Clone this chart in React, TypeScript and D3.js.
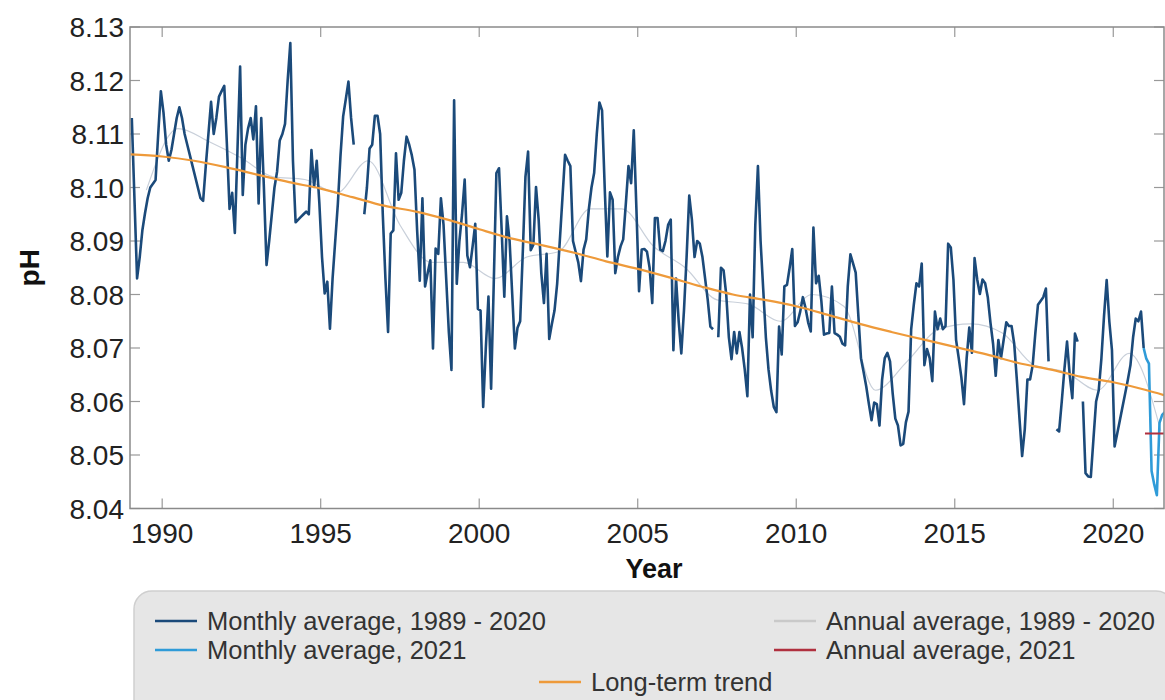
import React from "react";
import * as d3 from "d3";

// Monthly pH, Jan 1989 .. Dec 2020 (null = missing month)
const monthly1989to2020: (number | null)[] = [
  8.113, 8.098, 8.083, 8.087, 8.092, 8.0952, 8.098, 8.1, 8.1007, 8.1014, 8.11, 8.118,
  8.114, 8.108, 8.105, 8.107, 8.11, 8.113, 8.115, 8.113, 8.11, 8.108, 8.106, 8.104,
  8.102, 8.1, 8.098, 8.0975, 8.104, 8.11, 8.116, 8.11, 8.113, 8.117, 8.118, 8.119,
  8.108, 8.096, 8.099, 8.0915, 8.107, 8.1226, 8.0986, 8.108, 8.111, 8.113, 8.109, 8.1152,
  8.097, 8.113, 8.1, 8.0855, 8.09, 8.095, 8.1, 8.103, 8.1088, 8.11, 8.1119, 8.12,
  8.127, 8.105, 8.0935, 8.094, 8.0945, 8.095, 8.0955, 8.095, 8.107, 8.1001, 8.105, 8.097,
  8.087, 8.0802, 8.0824, 8.0736, 8.083, 8.09, 8.097, 8.106, 8.1133, 8.1165, 8.1198, 8.113,
  8.108, null, null, null, 8.095, 8.1, 8.1073, 8.108, 8.1134, 8.1134, 8.11, 8.095,
  8.083, 8.073, 8.0914, 8.092, 8.1064, 8.0977, 8.099, 8.105, 8.1095, 8.108, 8.106, 8.1033,
  8.092, 8.0826, 8.098, 8.0815, 8.084, 8.0864, 8.0699, 8.0886, 8.0876, 8.098, 8.093, 8.083,
  8.073, 8.0659, 8.1163, 8.082, 8.09, 8.095, 8.1015, 8.0873, 8.0851, 8.089, 8.0932, 8.0773,
  8.077, 8.059, 8.07, 8.0796, 8.0624, 8.082, 8.1027, 8.1036, 8.092, 8.0796, 8.0946, 8.09,
  8.08, 8.0699, 8.0738, 8.075, 8.088, 8.102, 8.1067, 8.0883, 8.0893, 8.1001, 8.094, 8.084,
  8.0784, 8.0876, 8.0717, 8.0745, 8.077, 8.082, 8.09, 8.098, 8.1061, 8.105, 8.104, 8.09,
  8.088, 8.086, 8.0825, 8.0884, 8.0903, 8.096, 8.1, 8.1027, 8.11, 8.1159, 8.1144, 8.1,
  8.0871, 8.0991, 8.0977, 8.084, 8.087, 8.089, 8.0903, 8.097, 8.104, 8.1008, 8.1107, 8.096,
  8.0806, 8.0884, 8.0885, 8.088, 8.085, 8.0784, 8.0943, 8.0943, 8.0884, 8.0881, 8.09, 8.093,
  8.094, 8.0696, 8.083, 8.075, 8.069, 8.077, 8.087, 8.0985, 8.094, 8.087, 8.09, 8.0895,
  8.087, 8.083, 8.079, 8.074, 8.0735, null, 8.072, 8.085, 8.0845, 8.08, 8.072, 8.0679,
  8.073, 8.069, 8.073, 8.07, 8.066, 8.061, 8.08, 8.072, 8.093, 8.104, 8.09, 8.081,
  8.072, 8.066, 8.062, 8.059, 8.058, 8.074, 8.0688, 8.0815, 8.0818, 8.085, 8.0885, 8.0741,
  8.0748, 8.0768, 8.0795, 8.0775, 8.0748, 8.0731, 8.0925, 8.0821, 8.0835, 8.0788, 8.0725, 8.0727,
  8.0728, 8.0815, 8.0728, 8.0725, 8.0721, 8.0708, 8.0705, 8.0815, 8.0875, 8.0858, 8.0841, 8.0761,
  8.0681, 8.0655, 8.0628, 8.0595, 8.0565, 8.0598, 8.0595, 8.0555, 8.0641, 8.0681, 8.0691, 8.0675,
  8.0615, 8.0568, 8.0555, 8.0518, 8.0521, 8.0561, 8.0581, 8.0735, 8.0781, 8.0821, 8.0815, 8.0858,
  8.0668, 8.0698, 8.0681, 8.0638, 8.0768, 8.0735, 8.0755, 8.0735, 8.0741, 8.0895, 8.0888, 8.0828,
  8.0715, 8.0681, 8.0645, 8.0595, 8.0681, 8.0738, 8.0691, 8.0868, 8.0828, 8.0801, 8.0828, 8.0821,
  8.0795, 8.0748, 8.0708, 8.0648, 8.0715, 8.0681, 8.0715, 8.0748, 8.0741, 8.0741, 8.0708, 8.0641,
  8.0568, 8.0498, 8.0548, 8.0641, 8.0641, 8.0668, 8.0728, 8.0781, 8.0788, 8.0795, 8.0811, 8.0675,
  null, null, 8.0548, 8.0544, 8.06, 8.066, 8.0712, 8.065, 8.0606, 8.0727, 8.0712, null,
  8.06, 8.0466, 8.046, 8.0459, 8.053, 8.06, 8.0621, 8.068, 8.076, 8.0827, 8.075, 8.0696,
  8.0516, 8.054, 8.0565, 8.059, 8.0615, 8.064, 8.0668, 8.072, 8.0755, 8.075, 8.0768, 8.07,
];

// Monthly pH 2021 (Jan .. Aug)
const monthly2021: number[] = [8.068, 8.0671, 8.047, 8.0445, 8.0425, 8.056, 8.0575, 8.058];

// Annual averages (plotted mid-year)
const annualYears: number[] = [
  1989, 1990, 1991, 1992, 1993, 1994, 1995, 1996, 1997, 1998, 1999, 2000, 2001, 2002, 2003, 2004,
  2005, 2006, 2007, 2008, 2009, 2010, 2011, 2012, 2013, 2014, 2015, 2016, 2017, 2018, 2019, 2020, 2021,
];
const annualValues: number[] = [
  8.0995, 8.111, 8.1085, 8.1055, 8.102, 8.1015, 8.099, 8.105, 8.093, 8.086, 8.086, 8.083, 8.087,
  8.088, 8.096, 8.096, 8.089, 8.085, 8.079, 8.0782, 8.075, 8.08, 8.0778, 8.0621, 8.0675, 8.0735,
  8.0745, 8.0728, 8.0668, 8.0655, 8.0621, 8.069, 8.0545,
];

// Annual average 2021
const annual2021 = 8.054;

// Long-term trend
const trendYears: number[] = [
  1989, 1990, 1991, 1992, 1993, 1994, 1995, 1996, 1997, 1998, 1999, 2000, 2001, 2002, 2003, 2004,
  2005, 2006, 2007, 2008, 2009, 2010, 2011, 2012, 2013, 2014, 2015, 2016, 2017, 2018, 2019, 2020,
  2021, 2021.6,
];
const trendValues: number[] = [
  8.1062, 8.1058, 8.105, 8.1038, 8.1024, 8.101, 8.0998, 8.0982, 8.0966, 8.0955, 8.094, 8.0922,
  8.0905, 8.0892, 8.0878, 8.0862, 8.0848, 8.0832, 8.0815, 8.08, 8.079, 8.0778, 8.0762, 8.0745,
  8.073, 8.0716, 8.0702, 8.0688, 8.0672, 8.066, 8.0646, 8.0636, 8.0622, 8.0612,
];

const xTicks: number[] = [1990, 1995, 2000, 2005, 2010, 2015, 2020];
const yTicks: number[] = [8.04, 8.05, 8.06, 8.07, 8.08, 8.09, 8.1, 8.11, 8.12, 8.13];

const legendItems = [
  { label: "Monthly average, 1989 - 2020", color: "#1b4a7a" },
  { label: "Monthly average, 2021", color: "#2f9bd8" },
  { label: "Annual average, 1989 - 2020", color: "#c9c9c9" },
  { label: "Annual average, 2021", color: "#b0303f" },
  { label: "Long-term trend", color: "#ee9a3a" },
];

const FONT = "'Liberation Sans', Arial, Helvetica, sans-serif";

export default function App() {
  const L = 130, R = 1164, T = 27, B = 508.5;
  const x = d3.scaleLinear().domain([1988.985, 2021.6]).range([L, R]);
  const y = d3.scaleLinear().domain([8.04, 8.13]).range([B, T]);

  type P = { t: number; v: number | null };
  const monthlyPts: P[] = monthly1989to2020.map((v, i) => ({ t: 1989 + (i + 0.5) / 12, v }));
  const lastIdx = monthly1989to2020.length - 1;
  const pts2021: P[] = [
    { t: 1989 + (lastIdx + 0.5) / 12, v: monthly1989to2020[lastIdx] },
    ...monthly2021.map((v, i) => ({ t: 2021 + (i + 0.5) / 12, v })),
  ];
  const line = d3
    .line<P>()
    .defined((d) => d.v !== null)
    .x((d) => x(d.t))
    .y((d) => y(d.v as number));

  const annualPts: P[] = annualYears.map((yr, i) => ({ t: yr + 0.5, v: annualValues[i] }));
  const trendPts: P[] = trendYears.map((yr, i) => ({ t: yr, v: trendValues[i] }));
  const smooth = d3
    .line<P>()
    .x((d) => x(d.t))
    .y((d) => y(d.v as number))
    .curve(d3.curveMonotoneX);

  const tick = 10;

  return (
    <svg
      width={1165}
      height={700}
      style={{ position: "absolute", left: 0, top: 0, background: "#fff" }}
      fontFamily={FONT}
    >
      <defs>
        <clipPath id="plotclip">
          <rect x={L} y={T} width={R - L} height={B - T} />
        </clipPath>
      </defs>

      {xTicks.map((t) => (
        <g key={"xt" + t}>
          <line x1={x(t)} x2={x(t)} y1={B} y2={B - tick} stroke="#999" strokeWidth={1.2} />
          <line x1={x(t)} x2={x(t)} y1={T} y2={T + tick} stroke="#999" strokeWidth={1.2} />
          <text x={x(t)} y={543} textAnchor="middle" fontSize={28} fill="#222">
            {t}
          </text>
        </g>
      ))}
      {yTicks.map((t) => (
        <g key={"yt" + t}>
          <line x1={L} x2={L + tick} y1={y(t)} y2={y(t)} stroke="#999" strokeWidth={1.2} />
          <line x1={R} x2={R - tick} y1={y(t)} y2={y(t)} stroke="#999" strokeWidth={1.2} />
          <text x={124} y={y(t) + 10} textAnchor="end" fontSize={28} fill="#222">
            {t.toFixed(2)}
          </text>
        </g>
      ))}

      <g clipPath="url(#plotclip)">
        <path d={smooth(annualPts) || ""} fill="none" stroke="#c9d0da" strokeWidth={1.2} />
        <path d={line(monthlyPts) || ""} fill="none" stroke="#1b4a7a" strokeWidth={2.6} strokeLinejoin="round" />
        <path d={line(pts2021) || ""} fill="none" stroke="#2f9bd8" strokeWidth={2.6} strokeLinejoin="round" />
        <path d={smooth(trendPts) || ""} fill="none" stroke="#ee9a3a" strokeWidth={2.2} />
        <line x1={x(2021)} x2={x(2021.6)} y1={y(annual2021)} y2={y(annual2021)} stroke="#b0303f" strokeWidth={2} />
      </g>

      <rect x={L} y={T} width={R - L} height={B - T} fill="none" stroke="#8a8a8a" strokeWidth={1.5} />

      <text
        transform={`translate(39, ${(T + B) / 2}) rotate(-90)`}
        textAnchor="middle"
        fontSize={28}
        fontWeight="bold"
        fill="#111"
      >
        pH
      </text>
      <text x={654} y={578} textAnchor="middle" fontSize={27} fontWeight="bold" fill="#111">
        Year
      </text>

      <rect x={134} y={591} width={1040} height={130} rx={18} fill="#e6e6e6" stroke="#cfcfcf" strokeWidth={1.5} />
      {[
        { item: legendItems[0], sx: 155, ty: 621 },
        { item: legendItems[1], sx: 155, ty: 650 },
        { item: legendItems[2], sx: 774, ty: 621 },
        { item: legendItems[3], sx: 774, ty: 650 },
        { item: legendItems[4], sx: 539, ty: 682 },
      ].map(({ item, sx, ty }) => (
        <g key={item.label}>
          <line x1={sx} x2={sx + 42} y1={ty} y2={ty} stroke={item.color} strokeWidth={2.5} />
          <text x={sx + 52} y={ty + 8.5} fontSize={25.5} fill="#333">
            {item.label}
          </text>
        </g>
      ))}
    </svg>
  );
}
